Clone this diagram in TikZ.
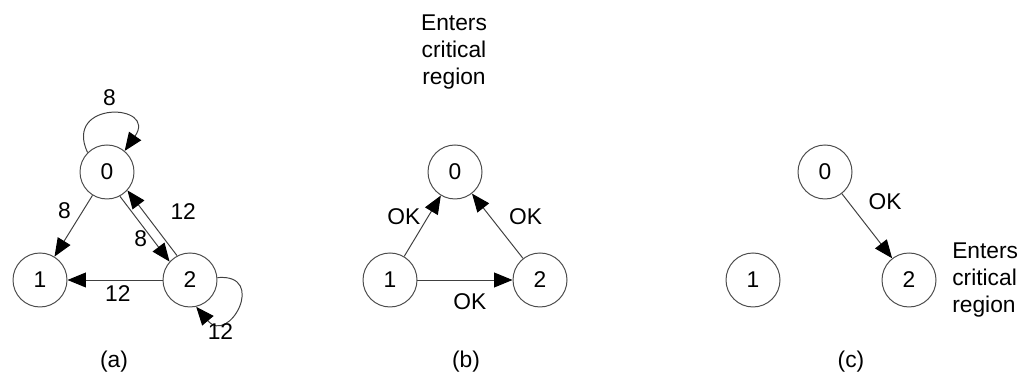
\documentclass[tikz,border=0pt]{standalone}
\usepackage{fontspec}
\setmainfont{Liberation Sans}
\usetikzlibrary{arrows.meta}

\begin{document}
\begin{tikzpicture}[
        every node/.style={font=\fontsize{16.2}{19}\selectfont},
        proc/.style={circle, draw=black!70, line width=0.7pt, minimum size=1.35cm, inner sep=0pt},
        msg/.style={draw=black!75, line width=0.7pt, -{Triangle[length=13pt, width=10.5pt, color=black]}}
    ]
        \useasboundingbox (0, 0) rectangle (25.7, 9.625);

        % (a)
        \node[proc] (a0) at (2.675, 5.325) {0};
        \node[proc] (a1) at (1.0, 2.625) {1};
        \node[proc] (a2) at (4.75, 2.625) {2};
        \node (acap) at (2.85, 0.575) {(a)};

        \draw[msg] (a0.135) to[out=115, in=55, looseness=4] node[above=2pt]{8} (a0.50);
        \draw[msg] (a0) to node[pos=0.25, left=5pt]{8} (a1);
        \draw[msg] (a0.-62) to node[pos=0.65, left]{8} (a2.138);
        \draw[msg] (a2.118) to node[pos=0.68, right=0.55cm]{12} (a0.-42);
        \draw[msg] (a2) to node[pos=0.47, below]{12} (a1);
        \draw[msg] (a2.5) to[out=5, in=-50, looseness=3.6] node[pos=0.75, below]{12} (a2.-77);

        % (b)
        \node[proc] (b0) at (11.375, 5.325) {0};
        \node[proc] (b1) at (9.75, 2.625) {1};
        \node[proc] (b2) at (13.5, 2.625) {2};
        \node[align=center] (btxt) at (11.35, 8.325) {Enters\\critical\\region};
        \node (bcap) at (11.65, 0.575) {(b)};

        \draw[msg] (b1) to node[pos=0.66, left=2pt]{OK} (b0);
        \draw[msg] (b2) to node[pos=0.65, right=10pt]{OK} (b0);
        \draw[msg] (b1) to node[pos=0.55, below=6pt]{OK} (b2);

        % (c)
        \node[proc] (c0) at (20.625, 5.325) {0};
        \node[proc] (c1) at (18.825, 2.625) {1};
        \node[proc] (c2) at (22.725, 2.625) {2};
        \node[align=left, anchor=west, inner sep=0pt] (ctxt) at (23.8, 2.625) {Enters\\critical\\region};
        \node (ccap) at (21.275, 0.575) {(c)};

        \draw[msg] (c0) to node[pos=0.12, right=11pt]{OK} (c2);
\end{tikzpicture}
\end{document}
